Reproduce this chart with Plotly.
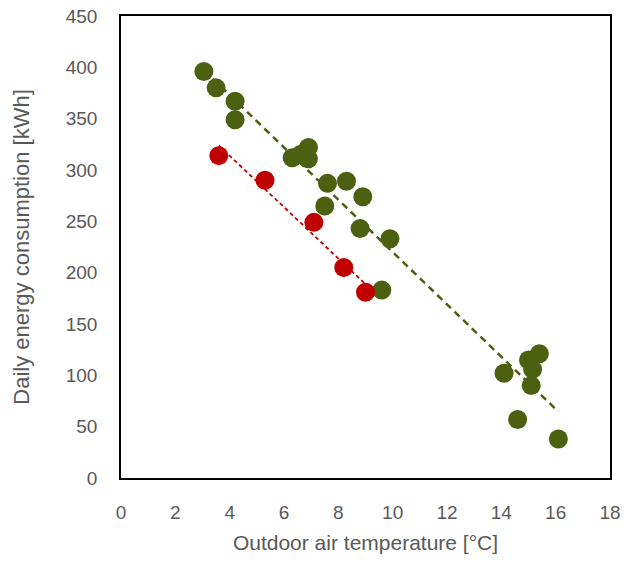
import numpy as np
import plotly.graph_objects as go

# Green series
green_x = [3.05, 3.5, 4.2, 4.2, 6.3, 6.6, 6.9, 6.9, 7.6, 8.3, 8.9, 7.5, 8.8, 9.9, 9.6,
           15.4, 15.0, 15.15, 14.1, 15.1, 14.6, 16.1]
green_y = [396, 380, 367, 349, 312, 315, 322, 311, 287, 289, 274, 265, 243, 233, 183,
           121, 115, 106, 102, 90, 57, 38]
# Red series
red_x = [3.6, 5.3, 7.1, 8.2, 9.0]
red_y = [314, 290, 249, 205, 181]

x_ticks = list(range(0, 19, 2))
y_ticks = list(range(0, 451, 50))

GREEN = "#4b6010"
RED = "#c00000"
GREY = "#595959"
FONT = "Liberation Sans Narrow, Arial Narrow, Liberation Sans, Arial, sans-serif"

def trend(xs, ys):
    m, b = np.polyfit(xs, ys, 1)
    xx = np.array([min(xs), max(xs)])
    return xx, m * xx + b

gx, gy = trend(green_x, green_y)
rx, ry = trend(red_x, red_y)

fig = go.Figure()
fig.add_trace(go.Scatter(x=gx, y=gy, mode="lines",
                         line=dict(color=GREEN, width=2.5, dash="7px,5px"), hoverinfo="skip"))
fig.add_trace(go.Scatter(x=rx, y=ry, mode="lines",
                         line=dict(color=RED, width=1.8, dash="4px,3px"), hoverinfo="skip"))
fig.add_trace(go.Scatter(x=green_x, y=green_y, mode="markers",
                         marker=dict(color=GREEN, size=19, line=dict(width=0))))
fig.add_trace(go.Scatter(x=red_x, y=red_y, mode="markers",
                         marker=dict(color=RED, size=19, line=dict(width=0))))

fig.update_layout(
    width=628, height=562,
    margin=dict(l=121, r=18, t=16, b=84, autoexpand=False),
    paper_bgcolor="white", plot_bgcolor="white",
    showlegend=False,
    font=dict(family=FONT, color=GREY, size=19),
)
fig.update_xaxes(range=[0, 18], tickvals=x_ticks, showgrid=False, zeroline=False,
                 showline=True, linecolor="black", linewidth=1.5, mirror=True,
                 ticks="outside", ticklen=16, tickcolor="rgba(0,0,0,0)", automargin=False,
                 ticklabeloverflow="allow",
                 tickfont=dict(size=19, family=FONT, color=GREY),
                 title=dict(text="Outdoor air temperature [°C]",
                            font=dict(size=21, family=FONT, color=GREY), standoff=14))
fig.update_yaxes(range=[0, 450], tickvals=y_ticks, showgrid=False, zeroline=False,
                 showline=True, linecolor="black", linewidth=1.5, mirror=True,
                 ticks="outside", ticklen=18, tickcolor="rgba(0,0,0,0)", automargin=False,
                 ticklabeloverflow="allow",
                 tickfont=dict(size=19, family=FONT, color=GREY),
                 title=dict(text="Daily energy consumption [kWh]",
                            font=dict(size=22, family=FONT, color=GREY), standoff=30))

fig.write_html("out.html", config={"displayModeBar": False},
               post_script="document.body.style.margin='0';document.body.style.overflow='hidden';")
